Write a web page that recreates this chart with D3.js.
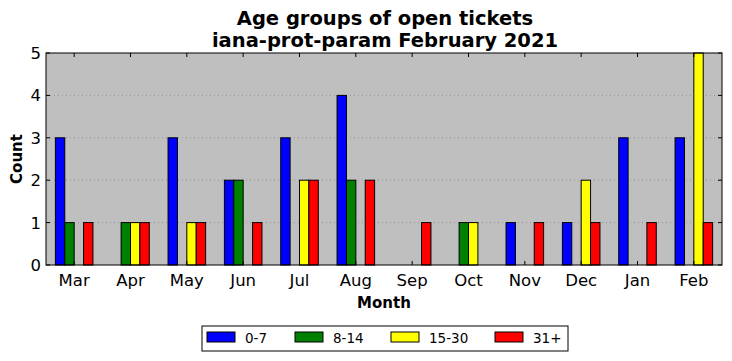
<!DOCTYPE html>
<html>
<head>
<meta charset="utf-8">
<script src="https://cdn.jsdelivr.net/npm/d3@7"></script>
<style>
  body { margin: 0; background: #fff; }
  text { font-family: "DejaVu Sans", sans-serif; }
</style>
</head>
<body>
<svg id="chart" width="732" height="361"></svg>
<script>
// chart data
const months = ["Mar", "Apr", "May", "Jun", "Jul", "Aug", "Sep", "Oct", "Nov", "Dec", "Jan", "Feb"];
const ageGroups = ["0-7", "8-14", "15-30", "31+"];
const groupColors = ["#0000ff", "#008000", "#ffff00", "#ff0000"];
const age0to7 = [3, 0, 3, 2, 3, 4, 0, 0, 1, 1, 3, 3];
const age8to14 = [1, 1, 0, 2, 0, 2, 0, 1, 0, 0, 0, 0];
const age15to30 = [0, 1, 1, 0, 2, 0, 0, 1, 0, 2, 0, 5];
const age31plus = [1, 1, 1, 1, 2, 2, 1, 0, 1, 1, 1, 1];
const yTicks = [0, 1, 2, 3, 4, 5];

const series = [age0to7, age8to14, age15to30, age31plus];

const svg = d3.select("#chart");
const margin = { left: 46, right: 10, top: 53, bottom: 96 };
const width = +svg.attr("width");
const height = +svg.attr("height");
const plotW = width - margin.left - margin.right;
const plotH = height - margin.top - margin.bottom;

const x = d3.scaleLinear().domain([0, months.length]).range([margin.left, margin.left + plotW]);
const y = d3.scaleLinear().domain([0, 5]).range([margin.top + plotH, margin.top]);
const barW = 1 / 6;

// background
svg.append("rect")
    .attr("x", margin.left).attr("y", margin.top)
    .attr("width", plotW).attr("height", plotH)
    .attr("fill", "#bfbfbf");

// grid
svg.append("g")
    .selectAll("line")
    .data(yTicks.slice(1, -1))
    .join("line")
    .attr("x1", margin.left).attr("x2", margin.left + plotW)
    .attr("y1", d => y(d)).attr("y2", d => y(d))
    .attr("stroke", "#8c8c8c")
    .attr("stroke-width", 0.8)
    .attr("stroke-dasharray", "1,3");

// bars
series.forEach((values, k) => {
    svg.append("g")
        .selectAll("rect")
        .data(values)
        .join("rect")
        .attr("x", (v, i) => x(i + barW + k * barW))
        .attr("y", v => y(v))
        .attr("width", x(barW) - x(0))
        .attr("height", v => y(0) - y(v))
        .attr("fill", groupColors[k])
        .attr("stroke", "#000")
        .attr("stroke-width", 1);
});

// frame
svg.append("rect")
    .attr("x", margin.left).attr("y", margin.top)
    .attr("width", plotW).attr("height", plotH)
    .attr("fill", "none")
    .attr("stroke", "#000")
    .attr("stroke-width", 1);

// ticks pointing inward on all four sides
const tickLen = 4;
const xTickPos = months.map((m, i) => i + 0.5);
const ticks = svg.append("g").attr("stroke", "#000").attr("stroke-width", 1);
xTickPos.forEach(t => {
    ticks.append("line").attr("x1", x(t)).attr("x2", x(t))
        .attr("y1", y(0)).attr("y2", y(0) - tickLen);
    ticks.append("line").attr("x1", x(t)).attr("x2", x(t))
        .attr("y1", y(5)).attr("y2", y(5) + tickLen);
});
yTicks.forEach(t => {
    ticks.append("line").attr("x1", margin.left).attr("x2", margin.left + tickLen)
        .attr("y1", y(t)).attr("y2", y(t));
    ticks.append("line").attr("x1", margin.left + plotW).attr("x2", margin.left + plotW - tickLen)
        .attr("y1", y(t)).attr("y2", y(t));
});

// tick labels
svg.append("g")
    .selectAll("text")
    .data(months)
    .join("text")
    .attr("x", (m, i) => x(i + 0.5))
    .attr("y", y(0) + 21)
    .attr("text-anchor", "middle")
    .attr("font-size", 16.5)
    .text(d => d);

svg.append("g")
    .selectAll("text")
    .data(yTicks)
    .join("text")
    .attr("x", margin.left - 5)
    .attr("y", d => y(d) + 6)
    .attr("text-anchor", "end")
    .attr("font-size", 16.5)
    .text(d => d);

// titles
svg.append("text")
    .attr("x", margin.left + plotW / 2 + 1).attr("y", 25)
    .attr("text-anchor", "middle").attr("font-size", 19.5).attr("font-weight", "bold")
    .text("Age groups of open tickets");
svg.append("text")
    .attr("x", margin.left + plotW / 2 + 1).attr("y", 47)
    .attr("text-anchor", "middle").attr("font-size", 19.5).attr("font-weight", "bold")
    .text("iana-prot-param February 2021");

svg.append("text")
    .attr("x", margin.left + plotW / 2).attr("y", 308)
    .attr("text-anchor", "middle").attr("font-size", 15).attr("font-weight", "bold")
    .text("Month");

svg.append("text")
    .attr("transform", `translate(22,${margin.top + plotH / 2}) rotate(-90)`)
    .attr("text-anchor", "middle").attr("font-size", 15).attr("font-weight", "bold")
    .text("Count");

// legend
const legend = svg.append("g");
legend.append("rect")
    .attr("x", 202).attr("y", 326).attr("width", 366).attr("height", 25)
    .attr("fill", "#fff").attr("stroke", "#000").attr("stroke-width", 1);
const legendX = [207, 295, 391, 495];
ageGroups.forEach((g, k) => {
    legend.append("rect")
        .attr("x", legendX[k]).attr("y", 332).attr("width", 28).attr("height", 10)
        .attr("fill", groupColors[k]).attr("stroke", "#000").attr("stroke-width", 1);
    legend.append("text")
        .attr("x", legendX[k] + 38).attr("y", 343)
        .attr("font-size", 13.5)
        .text(g);
});
</script>
</body>
</html>
